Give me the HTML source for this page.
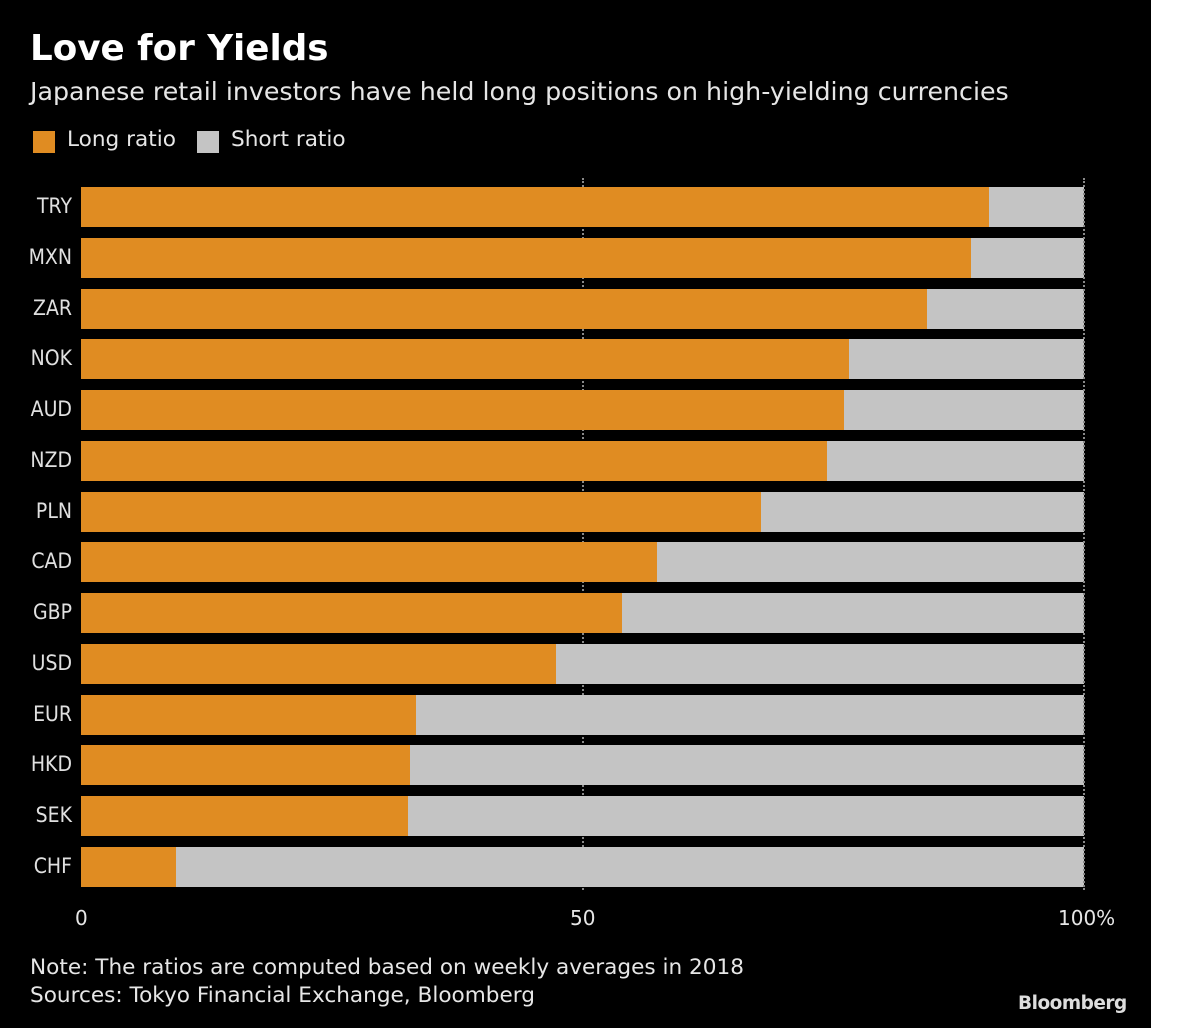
<!DOCTYPE html>
<html><head><style>
body{margin:0;width:1200px;height:1028px;background:#fff;overflow:hidden;font-family:"DejaVu Sans","Liberation Sans",sans-serif}
#c{position:absolute;left:0;top:0;width:1151px;height:1028px;background:#000;color:#e6e6e6}
.t{position:absolute;white-space:nowrap}
.bar{position:absolute;left:81px;width:1003px;height:40px;background:#c4c4c4}
.bar i{position:absolute;left:0;top:0;height:40px;background:#e08c22}
.lab{position:absolute;width:72px;left:0;text-align:right;font-size:21px;color:#e0e0e0;transform:scaleX(.9);transform-origin:right}
.g{position:absolute;top:178px;height:712px;border-left:2px dotted #888}
</style></head><body><div id="c">
<div class="t" style="left:30px;top:28px;font-size:35.7px;font-weight:bold;color:#fff">Love for Yields</div>
<div class="t" style="left:30px;top:77px;font-size:25.3px">Japanese retail investors have held long positions on high-yielding currencies</div>
<div class="t" style="left:33px;top:131px;width:22px;height:22px;background:#e08c22"></div>
<div class="t" style="left:67px;top:127px;font-size:21.6px">Long ratio</div>
<div class="t" style="left:197px;top:131px;width:22px;height:22px;background:#c4c4c4"></div>
<div class="t" style="left:231px;top:127px;font-size:21.6px">Short ratio</div>
<div class="g" style="left:582px"></div>
<div id="bars"></div>
<div class="g" style="left:1083px"></div>
<div class="t" style="left:75px;top:906px;font-size:20px">0</div>
<div class="t" style="left:570px;top:906px;font-size:20px">50</div>
<div class="t" style="left:1058px;top:906px;font-size:20px">100%</div>
<div class="t" style="left:30px;top:955px;font-size:21.6px">Note: The ratios are computed based on weekly averages in 2018</div>
<div class="t" style="left:30px;top:983px;font-size:21.6px">Sources: Tokyo Financial Exchange, Bloomberg</div>
<div class="t" style="left:1018px;top:993px;font-size:18.5px;font-weight:bold;color:#ddd;letter-spacing:-0.5px">Bloomberg</div>
</div>
<script>
var d=[["TRY",989],["MXN",971],["ZAR",927],["NOK",849],["AUD",844],["NZD",827],["PLN",761],["CAD",657],["GBP",622],["USD",556],["EUR",416],["HKD",410],["SEK",408],["CHF",176]];
var h="";d.forEach(function(r,i){var y=187+i*50.77;h+='<div class="bar" style="top:'+y+'px"><i style="width:'+(r[1]-81)+'px"></i></div><div class="lab" style="top:'+(y+7)+'px">'+r[0]+'</div>';});
document.getElementById("bars").innerHTML=h;
</script>
</body></html>
